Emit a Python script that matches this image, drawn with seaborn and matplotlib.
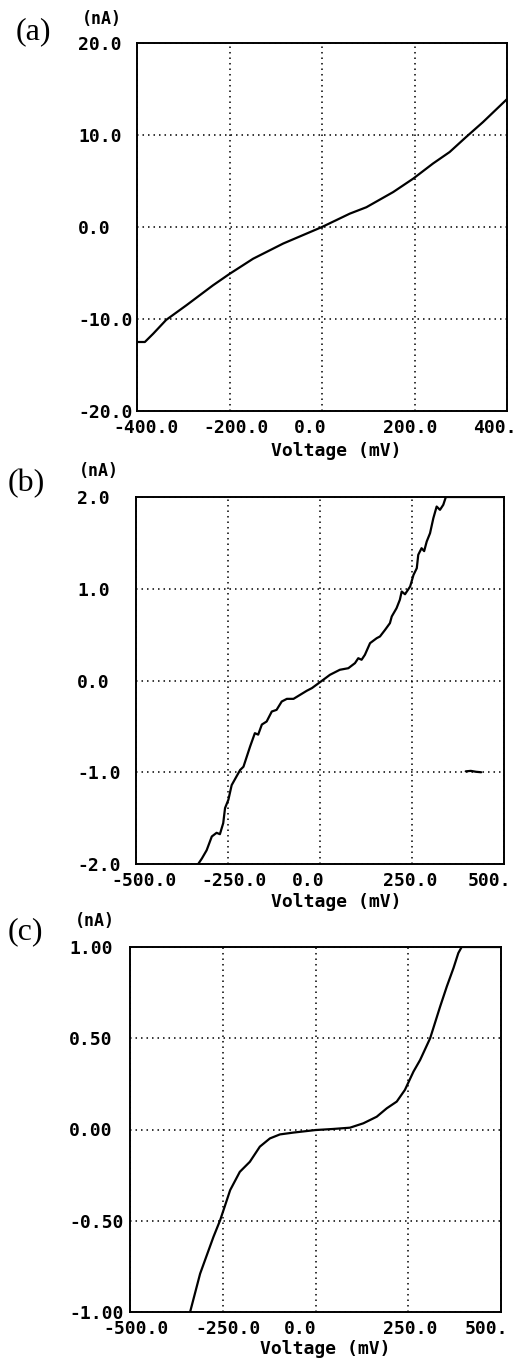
import numpy as np
import pandas as pd
import matplotlib
matplotlib.use("Agg")
import matplotlib.pyplot as plt
import matplotlib.transforms as mtransforms
import seaborn as sns

# ---------------- data ----------------
# Panel (a)
volt_a = [-400, -383, -365, -337, -293, -236, -200, -149, -84, 0, 60, 96, 154, 197, 240, 276, 312, 348, 400]
curr_a = [-12.5, -12.5, -11.6, -10.1, -8.5, -6.35, -5.1, -3.45, -1.8, 0.0, 1.45, 2.15, 3.8, 5.25, 6.9, 8.15, 9.8, 11.4, 13.9]

# Panel (b)
volt_b = [-331, -321, -308, -294, -281, -272, -263, -258, -249, -240, -217, -208, -190, -177, -168, -158,
          -145, -131, -118, -104, -90, -72, -54, -36, -22, -4, 9, 27, 54, 77, 95, 104, 113, 122, 136,
          154, 163, 177, 190, 195, 208, 217, 222, 231, 245, 254, 263, 267, 276, 283, 290, 299, 308,
          317, 326, 335, 342, 500]
curr_b = [-2.0, -1.94, -1.85, -1.70, -1.66, -1.675, -1.555, -1.39, -1.30, -1.14, -0.975, -0.94, -0.72,
          -0.574, -0.59, -0.48, -0.447, -0.338, -0.32, -0.229, -0.20, -0.20, -0.156, -0.112, -0.083,
          -0.03, 0.008, 0.062, 0.117, 0.134, 0.189, 0.243, 0.226, 0.28, 0.407, 0.461, 0.48, 0.553,
          0.625, 0.698, 0.788, 0.88, 0.97, 0.94, 1.025, 1.15, 1.224, 1.37, 1.442, 1.41, 1.515, 1.605,
          1.769, 1.896, 1.86, 1.915, 2.0, 2.0]
stray_volt_b = [396, 410, 424, 438]
stray_curr_b = [-0.99, -0.985, -0.995, -1.0]

# Panel (c)
volt_c = [-338, -311, -275, -257, -230, -204, -177, -150, -123, -96, -60, 0, 48, 93, 129, 165, 192,
          219, 241, 264, 282, 309, 336, 354, 372, 385, 394, 500]
curr_c = [-1.0, -0.79, -0.588, -0.497, -0.332, -0.232, -0.177, -0.094, -0.049, -0.027, -0.017,
          -0.003, 0.003, 0.010, 0.034, 0.070, 0.116, 0.153, 0.217, 0.317, 0.381, 0.500, 0.674,
          0.784, 0.885, 0.967, 1.0, 1.0]

xticks_a = [-400, -200, 0, 200, 400]
xticklabels_a = ["-400.0", "-200.0", "0.0", "200.0", "400."]
yticks_a = [-20, -10, 0, 10, 20]
yticklabels_a = ["-20.0", "-10.0", "0.0", "10.0", "20.0"]

xticks_bc = [-500, -250, 0, 250, 500]
xticklabels_bc = ["-500.0", "-250.0", "0.0", "250.0", "500."]
yticks_b = [-2, -1, 0, 1, 2]
yticklabels_b = ["-2.0", "-1.0", "0.0", "1.0", "2.0"]
yticks_c = [-1.0, -0.5, 0.0, 0.5, 1.0]
yticklabels_c = ["-1.00", "-0.50", "0.00", "0.50", "1.00"]

panel_letters = ["(a)", "(b)", "(c)"]
x_label = "Voltage (mV)"
y_unit = "(nA)"

# ---------------- style ----------------
sns.set_style("white")
plt.rcParams["axes.unicode_minus"] = False
MONO = "DejaVu Sans Mono"
SERIF = "Liberation Serif"

W, H = 516, 1360
fig = plt.figure(figsize=(W / 100, H / 100), dpi=100)


def px_rect(l, t, r, b):
    return [l / W, 1 - b / H, (r - l) / W, (b - t) / H]


panels = [
    dict(rect=px_rect(137, 43, 507, 411), x=volt_a, y=curr_a, xt=xticks_a, xtl=xticklabels_a,
         yt=yticks_a, ytl=yticklabels_a, xlim=(-400, 400), ylim=(-20, 20),
         letter_pos=(16, 32), unit_pos=(102, 19), ypad=42.5, xlab=(0.538, -0.084),
         xoff=[9, 7, -12, -4, -12]),
    dict(rect=px_rect(136, 497, 504, 864), x=volt_b, y=curr_b, xt=xticks_bc, xtl=xticklabels_bc,
         yt=yticks_b, ytl=yticklabels_b, xlim=(-500, 500), ylim=(-2, 2),
         letter_pos=(8, 484), unit_pos=(99, 471), ypad=42.5, xlab=(0.543, -0.078),
         xoff=[8, 6, -12, -2, -15]),
    dict(rect=px_rect(130, 947, 501, 1312), x=volt_c, y=curr_c, xt=xticks_bc, xtl=xticklabels_bc,
         yt=yticks_c, ytl=yticklabels_c, xlim=(-500, 500), ylim=(-1, 1),
         letter_pos=(8, 932), unit_pos=(95, 921), ypad=44, xlab=(0.526, -0.077),
         xoff=[6, 5, -15, 2, -15]),
]

for i, p in enumerate(panels):
    ax = fig.add_axes(p["rect"])
    df = pd.DataFrame({"V": p["x"], "I": p["y"]})
    sns.lineplot(data=df, x="V", y="I", ax=ax, color="black", lw=1.6,
                 estimator=None, sort=False)
    if i == 1:
        sdf = pd.DataFrame({"V": stray_volt_b, "I": stray_curr_b})
        sns.lineplot(data=sdf, x="V", y="I", ax=ax, color="black", lw=1.6,
                     estimator=None, sort=False)
    ax.set_xlim(*p["xlim"])
    ax.set_ylim(*p["ylim"])
    ax.set_xticks(p["xt"])
    ax.set_xticklabels(p["xtl"], fontfamily=MONO, fontsize=13, fontweight="bold")
    ax.set_yticks(p["yt"])
    ax.set_yticklabels(p["ytl"], fontfamily=MONO, fontsize=13, fontweight="bold")
    ax.tick_params(axis="x", length=0, pad=6, colors="black")
    ax.tick_params(axis="y", length=0, pad=p["ypad"], colors="black")
    for lab in ax.get_yticklabels():
        lab.set_ha("left")
    for lab, dx in zip(ax.get_xticklabels(), p["xoff"]):
        lab.set_transform(lab.get_transform() +
                          mtransforms.ScaledTranslation(dx / 100, 0, fig.dpi_scale_trans))
    ax.grid(True, color="black", lw=1.1, linestyle=(0, (1, 2.6)))
    for s in ax.spines.values():
        s.set_color("black")
        s.set_linewidth(1.4)
        s.set_visible(True)
    ax.set_xlabel(x_label, fontfamily=MONO, fontsize=13, fontweight="bold", color="black")
    ax.xaxis.set_label_coords(*p["xlab"])
    ax.set_ylabel("")

    lx, ly = p["letter_pos"]
    fig.text(lx / W, 1 - ly / H, panel_letters[i], fontfamily=SERIF, fontsize=23,
             ha="left", va="center", color="black")
    ux, uy = p["unit_pos"]
    fig.text(ux / W, 1 - uy / H, y_unit, fontfamily=MONO, fontsize=12, fontweight="bold",
             ha="center", va="center", color="black")

fig.savefig("out.png", dpi=100)
